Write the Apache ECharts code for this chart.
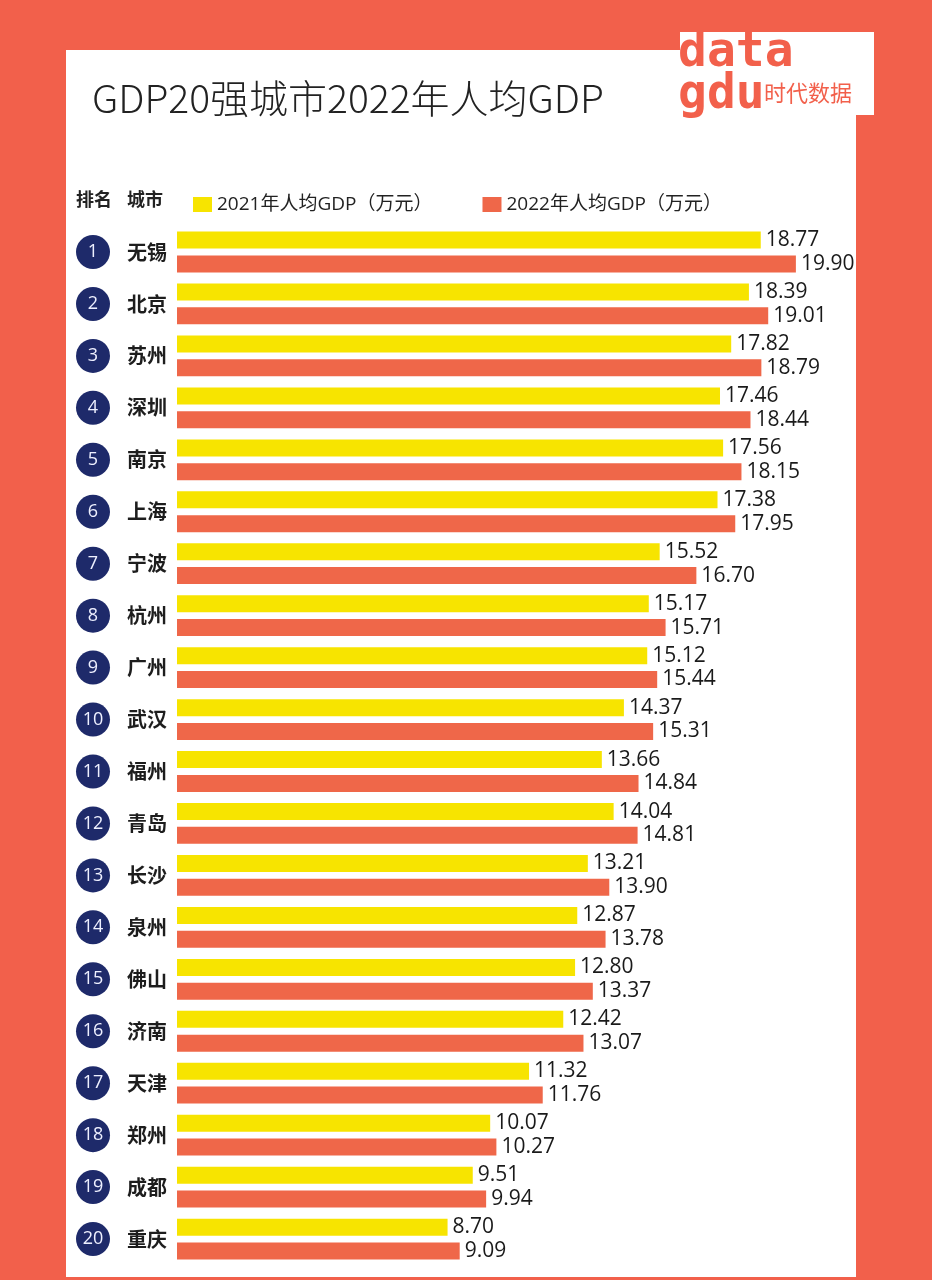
<!DOCTYPE html>
<html>
<head>
<meta charset="utf-8">
<script src="https://cdn.jsdelivr.net/npm/echarts@6/dist/echarts.min.js"></script>
<style>
html,body{margin:0;padding:0;background:#F2604B;}
#c{width:932px;height:1280px;}
</style>
</head>
<body>
<div id="c"></div>
<script>
const ranks = [1,2,3,4,5,6,7,8,9,10,11,12,13,14,15,16,17,18,19,20];
const cities = ['无锡','北京','苏州','深圳','南京','上海','宁波','杭州','广州','武汉','福州','青岛','长沙','泉州','佛山','济南','天津','郑州','成都','重庆'];
const gdp2021 = [18.77,18.39,17.82,17.46,17.56,17.38,15.52,15.17,15.12,14.37,13.66,14.04,13.21,12.87,12.80,12.42,11.32,10.07,9.51,8.70];
const gdp2022 = [19.90,19.01,18.79,18.44,18.15,17.95,16.70,15.71,15.44,15.31,14.84,14.81,13.90,13.78,13.37,13.07,11.76,10.27,9.94,9.09];
const seriesNames = ['2021年人均GDP（万元）','2022年人均GDP（万元）'];
const titleText = 'GDP20强城市2022年人均GDP';
const headRank = '排名';
const headCity = '城市';

const YELLOW = '#F7E400';
const RED = '#EF6749';
const BG = '#F2604B';
const NAVY = '#1E2A6A';
const FONT = "'Open Sans','Noto Sans CJK SC',sans-serif";

const chart = echarts.init(document.getElementById('c'), null, {renderer:'canvas'});

const valueLabel = {
  show: true,
  position: 'right',
  distance: 5,
  fontSize: 21,
  color: '#1a1a1a',
  fontFamily: FONT,
  formatter: p => Number(p.value).toFixed(2)
};

chart.setOption({
  backgroundColor: BG,
  animation: false,
  textStyle: {fontFamily: FONT},
  graphic: [
    {type:'rect', shape:{x:66, y:50, width:790, height:1227}, style:{fill:'#ffffff'}, z:-10},
    {type:'text', left:92, top:79, style:{text:titleText, fontSize:39, fill:'#222', fontFamily:"'Noto Sans CJK SC',sans-serif", fontWeight:300}},
    {type:'rect', shape:{x:680, y:32, width:194, height:83}, style:{fill:'#ffffff'}, z:1},
    {type:'text', left:678, top:30, z:2, style:{text:'data', fontSize:48, fontWeight:'bold', fill:BG, fontFamily:"'DejaVu Sans Mono',monospace"}},
    {type:'text', left:678, top:72, z:2, style:{text:'gdu', fontSize:48, fontWeight:'bold', fill:BG, fontFamily:"'DejaVu Sans Mono',monospace"}},
    {type:'text', left:764, top:82, z:2, style:{text:'时代数据', fontSize:22, fill:BG, fontFamily:"'Noto Sans CJK SC',sans-serif"}},
    {type:'text', left:76, top:190, style:{text:headRank, fontSize:18, fontWeight:'bold', fill:'#222', fontFamily:"'Noto Sans CJK SC',sans-serif"}},
    {type:'text', left:127, top:190, style:{text:headCity, fontSize:18, fontWeight:'bold', fill:'#222', fontFamily:"'Noto Sans CJK SC',sans-serif"}}
  ],
  legend: {
    left: 188,
    top: 190,
    icon: 'rect',
    itemWidth: 19,
    itemHeight: 15,
    itemGap: 50,
    textStyle: {fontSize: 19, color: '#222', fontFamily: FONT},
    data: seriesNames
  },
  grid: {left:177, right:133, top:226, bottom:15},
  xAxis: {
    type:'value', min:0, max:20, show:false
  },
  yAxis: {
    type:'category',
    inverse:true,
    data: cities,
    axisLine:{show:false},
    axisTick:{show:false},
    splitLine:{show:false},
    axisLabel:{
      align:'left',
      margin:101,
      formatter:(v,i)=>`{c|${ranks[i]}}{n|${v}}`,
      rich:{
        c:{width:34, height:34, lineHeight:34, borderRadius:17, backgroundColor:NAVY, color:'#eef0ff', align:'center', fontSize:18, fontFamily:FONT},
        n:{fontSize:20, fontWeight:'bold', color:'#1d1d1d', padding:[0,0,0,17], fontFamily:"'Noto Sans CJK SC',sans-serif"}
      }
    }
  },
  series: [
    {name:seriesNames[0], type:'bar', data:gdp2021, barWidth:17, barGap:'40%', itemStyle:{color:YELLOW}, label:valueLabel},
    {name:seriesNames[1], type:'bar', data:gdp2022, barWidth:17, barGap:'40%', itemStyle:{color:RED}, label:valueLabel}
  ]
});
</script>
</body>
</html>
